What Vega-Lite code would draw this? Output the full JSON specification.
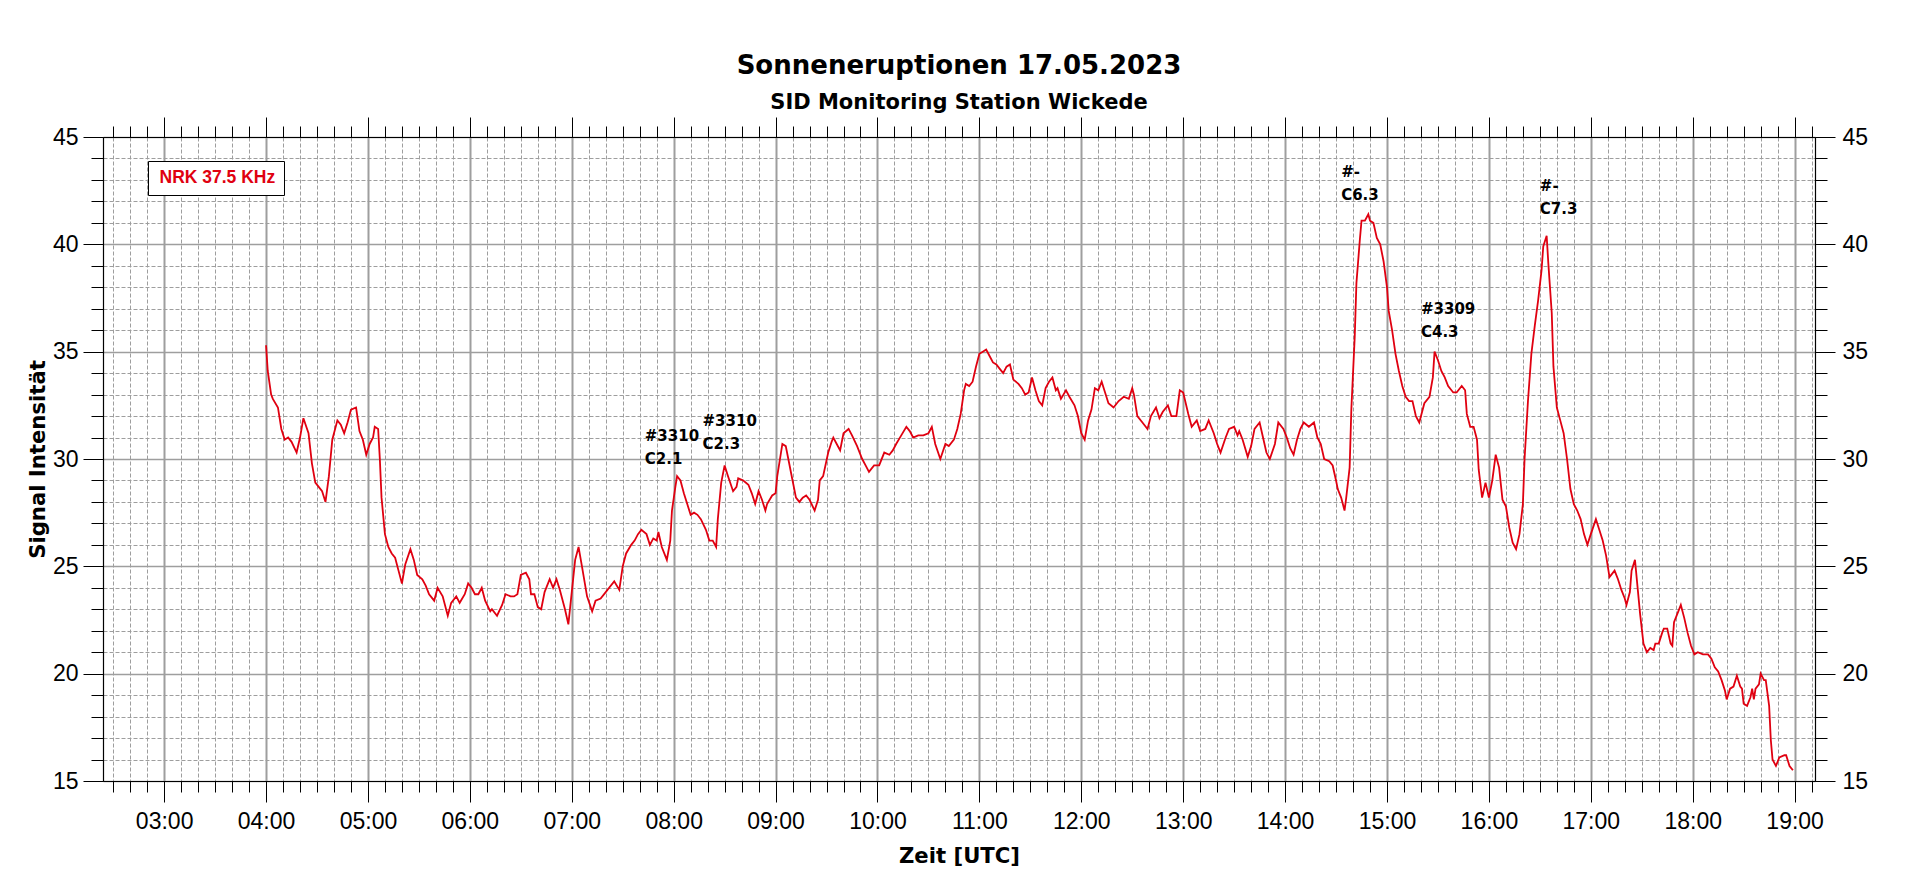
{
  "$schema": "https://vega.github.io/schema/vega-lite/v6.json",
  "description": "SID Aufzeichnung NRK 37.5 KHz, Sonneneruptionen 17.05.2023",
  "width": 1712,
  "height": 644,
  "autosize": {"type": "none"},
  "padding": {"left": 103, "top": 137, "right": 105, "bottom": 98},
  "background": "white",
  "title": {
    "text": "Sonneneruptionen 17.05.2023",
    "subtitle": "SID Monitoring Station Wickede",
    "font": "DejaVu Sans",
    "fontSize": 26,
    "fontWeight": "bold",
    "color": "black",
    "subtitleFont": "DejaVu Sans",
    "subtitleFontSize": 21,
    "subtitleFontWeight": "bold",
    "subtitleColor": "black",
    "subtitlePadding": 13,
    "anchor": "middle",
    "frame": "group",
    "offset": 3.5
  },
  "data": {
    "values": [
      {"zeit": "2023-05-17T04:00", "wert": 35.3}, {"zeit": "2023-05-17T04:01", "wert": 34.1}, {"zeit": "2023-05-17T04:03", "wert": 33.0},
      {"zeit": "2023-05-17T04:04", "wert": 32.8}, {"zeit": "2023-05-17T04:07", "wert": 32.4}, {"zeit": "2023-05-17T04:09", "wert": 31.4},
      {"zeit": "2023-05-17T04:11", "wert": 30.9}, {"zeit": "2023-05-17T04:13", "wert": 31.0}, {"zeit": "2023-05-17T04:15", "wert": 30.8},
      {"zeit": "2023-05-17T04:18", "wert": 30.3}, {"zeit": "2023-05-17T04:20", "wert": 31.0}, {"zeit": "2023-05-17T04:22", "wert": 31.9},
      {"zeit": "2023-05-17T04:25", "wert": 31.2}, {"zeit": "2023-05-17T04:27", "wert": 29.8}, {"zeit": "2023-05-17T04:29", "wert": 28.9},
      {"zeit": "2023-05-17T04:31", "wert": 28.7}, {"zeit": "2023-05-17T04:33", "wert": 28.5}, {"zeit": "2023-05-17T04:35", "wert": 28.0},
      {"zeit": "2023-05-17T04:37", "wert": 29.2}, {"zeit": "2023-05-17T04:39", "wert": 30.9}, {"zeit": "2023-05-17T04:42", "wert": 31.8},
      {"zeit": "2023-05-17T04:44", "wert": 31.6}, {"zeit": "2023-05-17T04:46", "wert": 31.2}, {"zeit": "2023-05-17T04:48", "wert": 31.7},
      {"zeit": "2023-05-17T04:50", "wert": 32.3}, {"zeit": "2023-05-17T04:53", "wert": 32.4}, {"zeit": "2023-05-17T04:55", "wert": 31.3},
      {"zeit": "2023-05-17T04:57", "wert": 30.9}, {"zeit": "2023-05-17T04:59", "wert": 30.2}, {"zeit": "2023-05-17T05:01", "wert": 30.7},
      {"zeit": "2023-05-17T05:03", "wert": 31.0}, {"zeit": "2023-05-17T05:04", "wert": 31.5}, {"zeit": "2023-05-17T05:06", "wert": 31.4},
      {"zeit": "2023-05-17T05:07", "wert": 30.0}, {"zeit": "2023-05-17T05:08", "wert": 28.2}, {"zeit": "2023-05-17T05:10", "wert": 26.5},
      {"zeit": "2023-05-17T05:12", "wert": 25.9}, {"zeit": "2023-05-17T05:14", "wert": 25.6}, {"zeit": "2023-05-17T05:16", "wert": 25.4},
      {"zeit": "2023-05-17T05:18", "wert": 24.8}, {"zeit": "2023-05-17T05:20", "wert": 24.2}, {"zeit": "2023-05-17T05:22", "wert": 25.1},
      {"zeit": "2023-05-17T05:25", "wert": 25.8}, {"zeit": "2023-05-17T05:27", "wert": 25.3}, {"zeit": "2023-05-17T05:29", "wert": 24.6},
      {"zeit": "2023-05-17T05:32", "wert": 24.4}, {"zeit": "2023-05-17T05:34", "wert": 24.1}, {"zeit": "2023-05-17T05:36", "wert": 23.7},
      {"zeit": "2023-05-17T05:39", "wert": 23.4}, {"zeit": "2023-05-17T05:41", "wert": 24.0}, {"zeit": "2023-05-17T05:44", "wert": 23.6},
      {"zeit": "2023-05-17T05:47", "wert": 22.7}, {"zeit": "2023-05-17T05:49", "wert": 23.3}, {"zeit": "2023-05-17T05:52", "wert": 23.6},
      {"zeit": "2023-05-17T05:54", "wert": 23.3}, {"zeit": "2023-05-17T05:57", "wert": 23.7}, {"zeit": "2023-05-17T05:59", "wert": 24.2},
      {"zeit": "2023-05-17T06:01", "wert": 24.0}, {"zeit": "2023-05-17T06:03", "wert": 23.7}, {"zeit": "2023-05-17T06:05", "wert": 23.7},
      {"zeit": "2023-05-17T06:07", "wert": 24.0}, {"zeit": "2023-05-17T06:09", "wert": 23.4}, {"zeit": "2023-05-17T06:12", "wert": 22.9},
      {"zeit": "2023-05-17T06:13", "wert": 23.0}, {"zeit": "2023-05-17T06:16", "wert": 22.7}, {"zeit": "2023-05-17T06:19", "wert": 23.2},
      {"zeit": "2023-05-17T06:21", "wert": 23.7}, {"zeit": "2023-05-17T06:24", "wert": 23.6}, {"zeit": "2023-05-17T06:26", "wert": 23.6},
      {"zeit": "2023-05-17T06:28", "wert": 23.7}, {"zeit": "2023-05-17T06:30", "wert": 24.6}, {"zeit": "2023-05-17T06:33", "wert": 24.7},
      {"zeit": "2023-05-17T06:35", "wert": 24.4}, {"zeit": "2023-05-17T06:36", "wert": 23.7}, {"zeit": "2023-05-17T06:38", "wert": 23.7},
      {"zeit": "2023-05-17T06:40", "wert": 23.1}, {"zeit": "2023-05-17T06:42", "wert": 23.0}, {"zeit": "2023-05-17T06:44", "wert": 23.8},
      {"zeit": "2023-05-17T06:47", "wert": 24.4}, {"zeit": "2023-05-17T06:49", "wert": 24.0}, {"zeit": "2023-05-17T06:51", "wert": 24.4},
      {"zeit": "2023-05-17T06:53", "wert": 23.9}, {"zeit": "2023-05-17T06:56", "wert": 23.0}, {"zeit": "2023-05-17T06:58", "wert": 22.3},
      {"zeit": "2023-05-17T07:00", "wert": 23.8}, {"zeit": "2023-05-17T07:02", "wert": 25.3}, {"zeit": "2023-05-17T07:04", "wert": 25.9},
      {"zeit": "2023-05-17T07:06", "wert": 25.0}, {"zeit": "2023-05-17T07:09", "wert": 23.6}, {"zeit": "2023-05-17T07:12", "wert": 22.9},
      {"zeit": "2023-05-17T07:14", "wert": 23.4}, {"zeit": "2023-05-17T07:17", "wert": 23.5}, {"zeit": "2023-05-17T07:20", "wert": 23.8},
      {"zeit": "2023-05-17T07:22", "wert": 24.0}, {"zeit": "2023-05-17T07:25", "wert": 24.3}, {"zeit": "2023-05-17T07:28", "wert": 23.9},
      {"zeit": "2023-05-17T07:30", "wert": 25.0}, {"zeit": "2023-05-17T07:32", "wert": 25.6}, {"zeit": "2023-05-17T07:35", "wert": 26.0},
      {"zeit": "2023-05-17T07:37", "wert": 26.2}, {"zeit": "2023-05-17T07:39", "wert": 26.5}, {"zeit": "2023-05-17T07:41", "wert": 26.7},
      {"zeit": "2023-05-17T07:44", "wert": 26.5}, {"zeit": "2023-05-17T07:46", "wert": 26.0}, {"zeit": "2023-05-17T07:48", "wert": 26.3},
      {"zeit": "2023-05-17T07:50", "wert": 26.2}, {"zeit": "2023-05-17T07:51", "wert": 26.6}, {"zeit": "2023-05-17T07:53", "wert": 25.9},
      {"zeit": "2023-05-17T07:55", "wert": 25.5}, {"zeit": "2023-05-17T07:56", "wert": 25.3}, {"zeit": "2023-05-17T07:58", "wert": 26.2},
      {"zeit": "2023-05-17T07:59", "wert": 27.6}, {"zeit": "2023-05-17T08:01", "wert": 28.7}, {"zeit": "2023-05-17T08:02", "wert": 29.2},
      {"zeit": "2023-05-17T08:04", "wert": 29.0}, {"zeit": "2023-05-17T08:06", "wert": 28.4}, {"zeit": "2023-05-17T08:08", "wert": 27.9},
      {"zeit": "2023-05-17T08:10", "wert": 27.4}, {"zeit": "2023-05-17T08:12", "wert": 27.5}, {"zeit": "2023-05-17T08:14", "wert": 27.4},
      {"zeit": "2023-05-17T08:16", "wert": 27.2}, {"zeit": "2023-05-17T08:19", "wert": 26.7}, {"zeit": "2023-05-17T08:21", "wert": 26.2},
      {"zeit": "2023-05-17T08:23", "wert": 26.2}, {"zeit": "2023-05-17T08:25", "wert": 25.9}, {"zeit": "2023-05-17T08:26", "wert": 27.2},
      {"zeit": "2023-05-17T08:28", "wert": 28.9}, {"zeit": "2023-05-17T08:30", "wert": 29.7}, {"zeit": "2023-05-17T08:32", "wert": 29.2},
      {"zeit": "2023-05-17T08:35", "wert": 28.5}, {"zeit": "2023-05-17T08:37", "wert": 28.7}, {"zeit": "2023-05-17T08:38", "wert": 29.1},
      {"zeit": "2023-05-17T08:41", "wert": 29.0}, {"zeit": "2023-05-17T08:44", "wert": 28.8}, {"zeit": "2023-05-17T08:46", "wert": 28.4},
      {"zeit": "2023-05-17T08:48", "wert": 27.9}, {"zeit": "2023-05-17T08:50", "wert": 28.5}, {"zeit": "2023-05-17T08:52", "wert": 28.1},
      {"zeit": "2023-05-17T08:54", "wert": 27.6}, {"zeit": "2023-05-17T08:55", "wert": 27.9}, {"zeit": "2023-05-17T08:58", "wert": 28.3},
      {"zeit": "2023-05-17T09:00", "wert": 28.4}, {"zeit": "2023-05-17T09:01", "wert": 29.2}, {"zeit": "2023-05-17T09:04", "wert": 30.7},
      {"zeit": "2023-05-17T09:06", "wert": 30.6}, {"zeit": "2023-05-17T09:08", "wert": 29.8}, {"zeit": "2023-05-17T09:10", "wert": 29.0},
      {"zeit": "2023-05-17T09:12", "wert": 28.2}, {"zeit": "2023-05-17T09:14", "wert": 28.0}, {"zeit": "2023-05-17T09:16", "wert": 28.2},
      {"zeit": "2023-05-17T09:18", "wert": 28.3}, {"zeit": "2023-05-17T09:20", "wert": 28.1}, {"zeit": "2023-05-17T09:23", "wert": 27.6},
      {"zeit": "2023-05-17T09:25", "wert": 28.1}, {"zeit": "2023-05-17T09:26", "wert": 29.0}, {"zeit": "2023-05-17T09:28", "wert": 29.2},
      {"zeit": "2023-05-17T09:31", "wert": 30.3}, {"zeit": "2023-05-17T09:33", "wert": 30.8}, {"zeit": "2023-05-17T09:34", "wert": 31.0},
      {"zeit": "2023-05-17T09:36", "wert": 30.7}, {"zeit": "2023-05-17T09:38", "wert": 30.4}, {"zeit": "2023-05-17T09:40", "wert": 31.2},
      {"zeit": "2023-05-17T09:43", "wert": 31.4}, {"zeit": "2023-05-17T09:45", "wert": 31.1}, {"zeit": "2023-05-17T09:48", "wert": 30.6},
      {"zeit": "2023-05-17T09:51", "wert": 30.0}, {"zeit": "2023-05-17T09:53", "wert": 29.7}, {"zeit": "2023-05-17T09:55", "wert": 29.4},
      {"zeit": "2023-05-17T09:58", "wert": 29.7}, {"zeit": "2023-05-17T10:01", "wert": 29.7}, {"zeit": "2023-05-17T10:04", "wert": 30.3},
      {"zeit": "2023-05-17T10:07", "wert": 30.2}, {"zeit": "2023-05-17T10:09", "wert": 30.4}, {"zeit": "2023-05-17T10:11", "wert": 30.7},
      {"zeit": "2023-05-17T10:14", "wert": 31.1}, {"zeit": "2023-05-17T10:17", "wert": 31.5}, {"zeit": "2023-05-17T10:19", "wert": 31.3},
      {"zeit": "2023-05-17T10:21", "wert": 31.0}, {"zeit": "2023-05-17T10:24", "wert": 31.1}, {"zeit": "2023-05-17T10:27", "wert": 31.1},
      {"zeit": "2023-05-17T10:30", "wert": 31.2}, {"zeit": "2023-05-17T10:32", "wert": 31.5}, {"zeit": "2023-05-17T10:34", "wert": 30.7},
      {"zeit": "2023-05-17T10:37", "wert": 30.0}, {"zeit": "2023-05-17T10:40", "wert": 30.7}, {"zeit": "2023-05-17T10:42", "wert": 30.6},
      {"zeit": "2023-05-17T10:45", "wert": 30.9}, {"zeit": "2023-05-17T10:47", "wert": 31.4}, {"zeit": "2023-05-17T10:49", "wert": 32.1},
      {"zeit": "2023-05-17T10:51", "wert": 33.2}, {"zeit": "2023-05-17T10:52", "wert": 33.5}, {"zeit": "2023-05-17T10:54", "wert": 33.4},
      {"zeit": "2023-05-17T10:56", "wert": 33.6}, {"zeit": "2023-05-17T10:58", "wert": 34.3}, {"zeit": "2023-05-17T11:00", "wert": 34.9},
      {"zeit": "2023-05-17T11:02", "wert": 35.0}, {"zeit": "2023-05-17T11:04", "wert": 35.1}, {"zeit": "2023-05-17T11:06", "wert": 34.8},
      {"zeit": "2023-05-17T11:08", "wert": 34.5}, {"zeit": "2023-05-17T11:10", "wert": 34.4}, {"zeit": "2023-05-17T11:12", "wert": 34.2},
      {"zeit": "2023-05-17T11:14", "wert": 34.0}, {"zeit": "2023-05-17T11:16", "wert": 34.3}, {"zeit": "2023-05-17T11:18", "wert": 34.4},
      {"zeit": "2023-05-17T11:20", "wert": 33.7}, {"zeit": "2023-05-17T11:23", "wert": 33.5}, {"zeit": "2023-05-17T11:25", "wert": 33.3},
      {"zeit": "2023-05-17T11:27", "wert": 33.0}, {"zeit": "2023-05-17T11:29", "wert": 33.1}, {"zeit": "2023-05-17T11:31", "wert": 33.8},
      {"zeit": "2023-05-17T11:33", "wert": 33.2}, {"zeit": "2023-05-17T11:35", "wert": 32.7}, {"zeit": "2023-05-17T11:37", "wert": 32.5},
      {"zeit": "2023-05-17T11:39", "wert": 33.3}, {"zeit": "2023-05-17T11:41", "wert": 33.6}, {"zeit": "2023-05-17T11:43", "wert": 33.8},
      {"zeit": "2023-05-17T11:45", "wert": 33.2}, {"zeit": "2023-05-17T11:46", "wert": 33.3}, {"zeit": "2023-05-17T11:48", "wert": 32.8},
      {"zeit": "2023-05-17T11:51", "wert": 33.2}, {"zeit": "2023-05-17T11:53", "wert": 32.9}, {"zeit": "2023-05-17T11:56", "wert": 32.5},
      {"zeit": "2023-05-17T11:58", "wert": 32.0}, {"zeit": "2023-05-17T12:00", "wert": 31.2}, {"zeit": "2023-05-17T12:02", "wert": 30.9},
      {"zeit": "2023-05-17T12:04", "wert": 31.8}, {"zeit": "2023-05-17T12:06", "wert": 32.3}, {"zeit": "2023-05-17T12:08", "wert": 33.3},
      {"zeit": "2023-05-17T12:10", "wert": 33.2}, {"zeit": "2023-05-17T12:12", "wert": 33.6}, {"zeit": "2023-05-17T12:14", "wert": 33.1},
      {"zeit": "2023-05-17T12:16", "wert": 32.6}, {"zeit": "2023-05-17T12:19", "wert": 32.4}, {"zeit": "2023-05-17T12:22", "wert": 32.7},
      {"zeit": "2023-05-17T12:25", "wert": 32.9}, {"zeit": "2023-05-17T12:28", "wert": 32.8}, {"zeit": "2023-05-17T12:30", "wert": 33.3},
      {"zeit": "2023-05-17T12:31", "wert": 33.0}, {"zeit": "2023-05-17T12:33", "wert": 32.0}, {"zeit": "2023-05-17T12:36", "wert": 31.7},
      {"zeit": "2023-05-17T12:39", "wert": 31.4}, {"zeit": "2023-05-17T12:41", "wert": 32.0}, {"zeit": "2023-05-17T12:44", "wert": 32.4},
      {"zeit": "2023-05-17T12:46", "wert": 31.9}, {"zeit": "2023-05-17T12:48", "wert": 32.2}, {"zeit": "2023-05-17T12:51", "wert": 32.5},
      {"zeit": "2023-05-17T12:53", "wert": 32.0}, {"zeit": "2023-05-17T12:56", "wert": 32.0}, {"zeit": "2023-05-17T12:58", "wert": 33.2},
      {"zeit": "2023-05-17T13:00", "wert": 33.1}, {"zeit": "2023-05-17T13:03", "wert": 32.1}, {"zeit": "2023-05-17T13:05", "wert": 31.5},
      {"zeit": "2023-05-17T13:08", "wert": 31.8}, {"zeit": "2023-05-17T13:10", "wert": 31.3}, {"zeit": "2023-05-17T13:13", "wert": 31.4},
      {"zeit": "2023-05-17T13:15", "wert": 31.8}, {"zeit": "2023-05-17T13:18", "wert": 31.2}, {"zeit": "2023-05-17T13:20", "wert": 30.7},
      {"zeit": "2023-05-17T13:22", "wert": 30.3}, {"zeit": "2023-05-17T13:25", "wert": 31.0}, {"zeit": "2023-05-17T13:27", "wert": 31.4},
      {"zeit": "2023-05-17T13:30", "wert": 31.5}, {"zeit": "2023-05-17T13:32", "wert": 31.1}, {"zeit": "2023-05-17T13:33", "wert": 31.3},
      {"zeit": "2023-05-17T13:35", "wert": 30.9}, {"zeit": "2023-05-17T13:38", "wert": 30.1}, {"zeit": "2023-05-17T13:40", "wert": 30.6},
      {"zeit": "2023-05-17T13:42", "wert": 31.4}, {"zeit": "2023-05-17T13:45", "wert": 31.7}, {"zeit": "2023-05-17T13:47", "wert": 31.0},
      {"zeit": "2023-05-17T13:49", "wert": 30.3}, {"zeit": "2023-05-17T13:51", "wert": 30.0}, {"zeit": "2023-05-17T13:54", "wert": 30.7},
      {"zeit": "2023-05-17T13:56", "wert": 31.7}, {"zeit": "2023-05-17T13:59", "wert": 31.4}, {"zeit": "2023-05-17T14:01", "wert": 31.0},
      {"zeit": "2023-05-17T14:03", "wert": 30.5}, {"zeit": "2023-05-17T14:05", "wert": 30.2}, {"zeit": "2023-05-17T14:07", "wert": 30.9},
      {"zeit": "2023-05-17T14:09", "wert": 31.4}, {"zeit": "2023-05-17T14:11", "wert": 31.7}, {"zeit": "2023-05-17T14:14", "wert": 31.5},
      {"zeit": "2023-05-17T14:17", "wert": 31.7}, {"zeit": "2023-05-17T14:19", "wert": 31.0}, {"zeit": "2023-05-17T14:21", "wert": 30.7},
      {"zeit": "2023-05-17T14:23", "wert": 30.0}, {"zeit": "2023-05-17T14:26", "wert": 29.9}, {"zeit": "2023-05-17T14:28", "wert": 29.7},
      {"zeit": "2023-05-17T14:30", "wert": 29.0}, {"zeit": "2023-05-17T14:31", "wert": 28.6}, {"zeit": "2023-05-17T14:33", "wert": 28.2},
      {"zeit": "2023-05-17T14:35", "wert": 27.6}, {"zeit": "2023-05-17T14:36", "wert": 28.2}, {"zeit": "2023-05-17T14:38", "wert": 29.6},
      {"zeit": "2023-05-17T14:39", "wert": 32.3}, {"zeit": "2023-05-17T14:41", "wert": 35.7}, {"zeit": "2023-05-17T14:42", "wert": 38.2},
      {"zeit": "2023-05-17T14:44", "wert": 40.2}, {"zeit": "2023-05-17T14:45", "wert": 41.1}, {"zeit": "2023-05-17T14:47", "wert": 41.1},
      {"zeit": "2023-05-17T14:49", "wert": 41.4}, {"zeit": "2023-05-17T14:50", "wert": 41.1}, {"zeit": "2023-05-17T14:52", "wert": 41.0},
      {"zeit": "2023-05-17T14:54", "wert": 40.3}, {"zeit": "2023-05-17T14:56", "wert": 40.0}, {"zeit": "2023-05-17T14:58", "wert": 39.2},
      {"zeit": "2023-05-17T15:00", "wert": 38.0}, {"zeit": "2023-05-17T15:01", "wert": 36.9}, {"zeit": "2023-05-17T15:03", "wert": 36.0},
      {"zeit": "2023-05-17T15:05", "wert": 34.9}, {"zeit": "2023-05-17T15:07", "wert": 34.1}, {"zeit": "2023-05-17T15:09", "wert": 33.4},
      {"zeit": "2023-05-17T15:11", "wert": 32.9}, {"zeit": "2023-05-17T15:13", "wert": 32.7}, {"zeit": "2023-05-17T15:15", "wert": 32.7},
      {"zeit": "2023-05-17T15:17", "wert": 32.0}, {"zeit": "2023-05-17T15:19", "wert": 31.7}, {"zeit": "2023-05-17T15:22", "wert": 32.6},
      {"zeit": "2023-05-17T15:25", "wert": 32.9}, {"zeit": "2023-05-17T15:27", "wert": 33.8}, {"zeit": "2023-05-17T15:28", "wert": 35.0},
      {"zeit": "2023-05-17T15:30", "wert": 34.6}, {"zeit": "2023-05-17T15:32", "wert": 34.1}, {"zeit": "2023-05-17T15:34", "wert": 33.8},
      {"zeit": "2023-05-17T15:36", "wert": 33.4}, {"zeit": "2023-05-17T15:39", "wert": 33.1}, {"zeit": "2023-05-17T15:41", "wert": 33.1},
      {"zeit": "2023-05-17T15:44", "wert": 33.4}, {"zeit": "2023-05-17T15:46", "wert": 33.2}, {"zeit": "2023-05-17T15:47", "wert": 32.1},
      {"zeit": "2023-05-17T15:49", "wert": 31.5}, {"zeit": "2023-05-17T15:51", "wert": 31.5}, {"zeit": "2023-05-17T15:53", "wert": 30.9},
      {"zeit": "2023-05-17T15:54", "wert": 29.5}, {"zeit": "2023-05-17T15:56", "wert": 28.2}, {"zeit": "2023-05-17T15:58", "wert": 28.9},
      {"zeit": "2023-05-17T16:00", "wert": 28.2}, {"zeit": "2023-05-17T16:02", "wert": 29.0}, {"zeit": "2023-05-17T16:04", "wert": 30.2},
      {"zeit": "2023-05-17T16:06", "wert": 29.6}, {"zeit": "2023-05-17T16:08", "wert": 28.1}, {"zeit": "2023-05-17T16:10", "wert": 27.8},
      {"zeit": "2023-05-17T16:12", "wert": 26.8}, {"zeit": "2023-05-17T16:14", "wert": 26.1}, {"zeit": "2023-05-17T16:16", "wert": 25.8},
      {"zeit": "2023-05-17T16:18", "wert": 26.5}, {"zeit": "2023-05-17T16:20", "wert": 27.9}, {"zeit": "2023-05-17T16:21", "wert": 30.0},
      {"zeit": "2023-05-17T16:23", "wert": 32.7}, {"zeit": "2023-05-17T16:25", "wert": 34.9}, {"zeit": "2023-05-17T16:27", "wert": 36.2},
      {"zeit": "2023-05-17T16:29", "wert": 37.4}, {"zeit": "2023-05-17T16:31", "wert": 38.8}, {"zeit": "2023-05-17T16:32", "wert": 39.9},
      {"zeit": "2023-05-17T16:34", "wert": 40.4}, {"zeit": "2023-05-17T16:35", "wert": 39.1}, {"zeit": "2023-05-17T16:37", "wert": 36.8},
      {"zeit": "2023-05-17T16:38", "wert": 34.3}, {"zeit": "2023-05-17T16:40", "wert": 32.4}, {"zeit": "2023-05-17T16:42", "wert": 31.8},
      {"zeit": "2023-05-17T16:44", "wert": 31.2}, {"zeit": "2023-05-17T16:46", "wert": 30.0}, {"zeit": "2023-05-17T16:48", "wert": 28.6},
      {"zeit": "2023-05-17T16:50", "wert": 27.9}, {"zeit": "2023-05-17T16:52", "wert": 27.6}, {"zeit": "2023-05-17T16:54", "wert": 27.2},
      {"zeit": "2023-05-17T16:56", "wert": 26.5}, {"zeit": "2023-05-17T16:58", "wert": 26.0}, {"zeit": "2023-05-17T17:00", "wert": 26.5},
      {"zeit": "2023-05-17T17:03", "wert": 27.2}, {"zeit": "2023-05-17T17:05", "wert": 26.7}, {"zeit": "2023-05-17T17:07", "wert": 26.2},
      {"zeit": "2023-05-17T17:09", "wert": 25.5}, {"zeit": "2023-05-17T17:11", "wert": 24.5}, {"zeit": "2023-05-17T17:14", "wert": 24.8},
      {"zeit": "2023-05-17T17:16", "wert": 24.4}, {"zeit": "2023-05-17T17:18", "wert": 23.9}, {"zeit": "2023-05-17T17:20", "wert": 23.5},
      {"zeit": "2023-05-17T17:21", "wert": 23.2}, {"zeit": "2023-05-17T17:23", "wert": 23.8}, {"zeit": "2023-05-17T17:24", "wert": 24.8},
      {"zeit": "2023-05-17T17:26", "wert": 25.3}, {"zeit": "2023-05-17T17:29", "wert": 22.8}, {"zeit": "2023-05-17T17:31", "wert": 21.4},
      {"zeit": "2023-05-17T17:33", "wert": 21.0}, {"zeit": "2023-05-17T17:35", "wert": 21.2}, {"zeit": "2023-05-17T17:37", "wert": 21.1},
      {"zeit": "2023-05-17T17:38", "wert": 21.4}, {"zeit": "2023-05-17T17:40", "wert": 21.4}, {"zeit": "2023-05-17T17:42", "wert": 21.9},
      {"zeit": "2023-05-17T17:43", "wert": 22.1}, {"zeit": "2023-05-17T17:45", "wert": 22.1}, {"zeit": "2023-05-17T17:47", "wert": 21.4},
      {"zeit": "2023-05-17T17:48", "wert": 21.3}, {"zeit": "2023-05-17T17:49", "wert": 22.4}, {"zeit": "2023-05-17T17:51", "wert": 22.8},
      {"zeit": "2023-05-17T17:53", "wert": 23.2}, {"zeit": "2023-05-17T17:55", "wert": 22.6}, {"zeit": "2023-05-17T17:57", "wert": 21.9},
      {"zeit": "2023-05-17T17:59", "wert": 21.3}, {"zeit": "2023-05-17T18:01", "wert": 20.9}, {"zeit": "2023-05-17T18:03", "wert": 21.0},
      {"zeit": "2023-05-17T18:06", "wert": 20.9}, {"zeit": "2023-05-17T18:09", "wert": 20.9}, {"zeit": "2023-05-17T18:11", "wert": 20.7},
      {"zeit": "2023-05-17T18:13", "wert": 20.3}, {"zeit": "2023-05-17T18:15", "wert": 20.1}, {"zeit": "2023-05-17T18:17", "wert": 19.7},
      {"zeit": "2023-05-17T18:19", "wert": 19.2}, {"zeit": "2023-05-17T18:20", "wert": 18.8}, {"zeit": "2023-05-17T18:22", "wert": 19.3},
      {"zeit": "2023-05-17T18:24", "wert": 19.4}, {"zeit": "2023-05-17T18:26", "wert": 19.9}, {"zeit": "2023-05-17T18:28", "wert": 19.4},
      {"zeit": "2023-05-17T18:29", "wert": 19.3}, {"zeit": "2023-05-17T18:30", "wert": 18.6}, {"zeit": "2023-05-17T18:32", "wert": 18.5},
      {"zeit": "2023-05-17T18:34", "wert": 18.9}, {"zeit": "2023-05-17T18:35", "wert": 19.3}, {"zeit": "2023-05-17T18:36", "wert": 18.8},
      {"zeit": "2023-05-17T18:37", "wert": 19.3}, {"zeit": "2023-05-17T18:39", "wert": 19.5}, {"zeit": "2023-05-17T18:40", "wert": 20.0},
      {"zeit": "2023-05-17T18:42", "wert": 19.7}, {"zeit": "2023-05-17T18:43", "wert": 19.7}, {"zeit": "2023-05-17T18:45", "wert": 18.5},
      {"zeit": "2023-05-17T18:46", "wert": 16.9}, {"zeit": "2023-05-17T18:47", "wert": 16.0}, {"zeit": "2023-05-17T18:49", "wert": 15.7},
      {"zeit": "2023-05-17T18:51", "wert": 16.1}, {"zeit": "2023-05-17T18:54", "wert": 16.2}, {"zeit": "2023-05-17T18:55", "wert": 16.2},
      {"zeit": "2023-05-17T18:57", "wert": 15.7}, {"zeit": "2023-05-17T18:59", "wert": 15.5}
    ]
  },
  "layer": [
    {
      "mark": {"type": "line", "opacity": 0},
      "encoding": {
        "x": {
          "field": "zeit", "type": "temporal",
          "scale": {"domain": ["2023-05-17T02:24", "2023-05-17T19:12"], "nice": false},
          "axis": {
            "orient": "bottom", "labels": false, "domain": false, "tickSize": 11,
            "grid": true, "gridDash": [4, 2], "gridWidth": 1, "title": null,
            "values": ["2023-05-17T02:30", "2023-05-17T02:40", "2023-05-17T02:50", "2023-05-17T03:00", "2023-05-17T03:10", "2023-05-17T03:20", "2023-05-17T03:30", "2023-05-17T03:40", "2023-05-17T03:50", "2023-05-17T04:00", "2023-05-17T04:10", "2023-05-17T04:20", "2023-05-17T04:30", "2023-05-17T04:40", "2023-05-17T04:50", "2023-05-17T05:00", "2023-05-17T05:10", "2023-05-17T05:20", "2023-05-17T05:30", "2023-05-17T05:40", "2023-05-17T05:50", "2023-05-17T06:00", "2023-05-17T06:10", "2023-05-17T06:20", "2023-05-17T06:30", "2023-05-17T06:40", "2023-05-17T06:50", "2023-05-17T07:00", "2023-05-17T07:10", "2023-05-17T07:20", "2023-05-17T07:30", "2023-05-17T07:40", "2023-05-17T07:50", "2023-05-17T08:00", "2023-05-17T08:10", "2023-05-17T08:20", "2023-05-17T08:30", "2023-05-17T08:40", "2023-05-17T08:50", "2023-05-17T09:00", "2023-05-17T09:10", "2023-05-17T09:20", "2023-05-17T09:30", "2023-05-17T09:40", "2023-05-17T09:50", "2023-05-17T10:00", "2023-05-17T10:10", "2023-05-17T10:20", "2023-05-17T10:30", "2023-05-17T10:40", "2023-05-17T10:50", "2023-05-17T11:00", "2023-05-17T11:10", "2023-05-17T11:20", "2023-05-17T11:30", "2023-05-17T11:40", "2023-05-17T11:50", "2023-05-17T12:00", "2023-05-17T12:10", "2023-05-17T12:20", "2023-05-17T12:30", "2023-05-17T12:40", "2023-05-17T12:50", "2023-05-17T13:00", "2023-05-17T13:10", "2023-05-17T13:20", "2023-05-17T13:30", "2023-05-17T13:40", "2023-05-17T13:50", "2023-05-17T14:00", "2023-05-17T14:10", "2023-05-17T14:20", "2023-05-17T14:30", "2023-05-17T14:40", "2023-05-17T14:50", "2023-05-17T15:00", "2023-05-17T15:10", "2023-05-17T15:20", "2023-05-17T15:30", "2023-05-17T15:40", "2023-05-17T15:50", "2023-05-17T16:00", "2023-05-17T16:10", "2023-05-17T16:20", "2023-05-17T16:30", "2023-05-17T16:40", "2023-05-17T16:50", "2023-05-17T17:00", "2023-05-17T17:10", "2023-05-17T17:20", "2023-05-17T17:30", "2023-05-17T17:40", "2023-05-17T17:50", "2023-05-17T18:00", "2023-05-17T18:10", "2023-05-17T18:20", "2023-05-17T18:30", "2023-05-17T18:40", "2023-05-17T18:50", "2023-05-17T19:00", "2023-05-17T19:10"]
          }
        },
        "y": {
          "field": "wert", "type": "quantitative",
          "scale": {"domain": [15, 45], "nice": false, "zero": false},
          "axis": {
            "orient": "left", "labels": false, "domain": false, "tickSize": 12,
            "grid": true, "gridDash": [4, 2], "gridWidth": 1, "title": null,
            "values": [15, 16, 17, 18, 19, 20, 21, 22, 23, 24, 25, 26, 27, 28, 29, 30, 31, 32, 33, 34, 35, 36, 37, 38, 39, 40, 41, 42, 43, 44, 45]
          }
        }
      }
    },
    {
      "mark": {"type": "line", "opacity": 0},
      "encoding": {
        "x": {
          "field": "zeit", "type": "temporal",
          "scale": {"domain": ["2023-05-17T02:24", "2023-05-17T19:12"], "nice": false},
          "axis": {
            "orient": "top", "labels": false, "domain": false, "tickSize": 11, "grid": false, "title": null,
            "values": ["2023-05-17T02:30", "2023-05-17T02:40", "2023-05-17T02:50", "2023-05-17T03:00", "2023-05-17T03:10", "2023-05-17T03:20", "2023-05-17T03:30", "2023-05-17T03:40", "2023-05-17T03:50", "2023-05-17T04:00", "2023-05-17T04:10", "2023-05-17T04:20", "2023-05-17T04:30", "2023-05-17T04:40", "2023-05-17T04:50", "2023-05-17T05:00", "2023-05-17T05:10", "2023-05-17T05:20", "2023-05-17T05:30", "2023-05-17T05:40", "2023-05-17T05:50", "2023-05-17T06:00", "2023-05-17T06:10", "2023-05-17T06:20", "2023-05-17T06:30", "2023-05-17T06:40", "2023-05-17T06:50", "2023-05-17T07:00", "2023-05-17T07:10", "2023-05-17T07:20", "2023-05-17T07:30", "2023-05-17T07:40", "2023-05-17T07:50", "2023-05-17T08:00", "2023-05-17T08:10", "2023-05-17T08:20", "2023-05-17T08:30", "2023-05-17T08:40", "2023-05-17T08:50", "2023-05-17T09:00", "2023-05-17T09:10", "2023-05-17T09:20", "2023-05-17T09:30", "2023-05-17T09:40", "2023-05-17T09:50", "2023-05-17T10:00", "2023-05-17T10:10", "2023-05-17T10:20", "2023-05-17T10:30", "2023-05-17T10:40", "2023-05-17T10:50", "2023-05-17T11:00", "2023-05-17T11:10", "2023-05-17T11:20", "2023-05-17T11:30", "2023-05-17T11:40", "2023-05-17T11:50", "2023-05-17T12:00", "2023-05-17T12:10", "2023-05-17T12:20", "2023-05-17T12:30", "2023-05-17T12:40", "2023-05-17T12:50", "2023-05-17T13:00", "2023-05-17T13:10", "2023-05-17T13:20", "2023-05-17T13:30", "2023-05-17T13:40", "2023-05-17T13:50", "2023-05-17T14:00", "2023-05-17T14:10", "2023-05-17T14:20", "2023-05-17T14:30", "2023-05-17T14:40", "2023-05-17T14:50", "2023-05-17T15:00", "2023-05-17T15:10", "2023-05-17T15:20", "2023-05-17T15:30", "2023-05-17T15:40", "2023-05-17T15:50", "2023-05-17T16:00", "2023-05-17T16:10", "2023-05-17T16:20", "2023-05-17T16:30", "2023-05-17T16:40", "2023-05-17T16:50", "2023-05-17T17:00", "2023-05-17T17:10", "2023-05-17T17:20", "2023-05-17T17:30", "2023-05-17T17:40", "2023-05-17T17:50", "2023-05-17T18:00", "2023-05-17T18:10", "2023-05-17T18:20", "2023-05-17T18:30", "2023-05-17T18:40", "2023-05-17T18:50", "2023-05-17T19:00", "2023-05-17T19:10"]
          }
        },
        "y": {
          "field": "wert", "type": "quantitative",
          "scale": {"domain": [15, 45], "nice": false, "zero": false},
          "axis": {
            "orient": "right", "labels": false, "domain": false, "tickSize": 12, "grid": false, "title": null,
            "values": [15, 16, 17, 18, 19, 20, 21, 22, 23, 24, 25, 26, 27, 28, 29, 30, 31, 32, 33, 34, 35, 36, 37, 38, 39, 40, 41, 42, 43, 44, 45]
          }
        }
      }
    },
    {
      "mark": {"type": "line", "opacity": 0},
      "encoding": {
        "x": {
          "field": "zeit", "type": "temporal",
          "scale": {"domain": ["2023-05-17T02:24", "2023-05-17T19:12"], "nice": false},
          "axis": {
            "orient": "top", "labels": false, "domain": true, "tickSize": 20, "grid": false, "title": null,
            "values": ["2023-05-17T03:00", "2023-05-17T04:00", "2023-05-17T05:00", "2023-05-17T06:00", "2023-05-17T07:00", "2023-05-17T08:00", "2023-05-17T09:00", "2023-05-17T10:00", "2023-05-17T11:00", "2023-05-17T12:00", "2023-05-17T13:00", "2023-05-17T14:00", "2023-05-17T15:00", "2023-05-17T16:00", "2023-05-17T17:00", "2023-05-17T18:00", "2023-05-17T19:00"]
          }
        },
        "y": {
          "field": "wert", "type": "quantitative",
          "scale": {"domain": [15, 45], "nice": false, "zero": false},
          "axis": {
            "orient": "right", "values": [15, 20, 25, 30, 35, 40, 45],
            "tickSize": 20, "labelPadding": 7, "domain": true, "grid": false, "title": null
          }
        }
      }
    },
    {
      "mark": {"type": "line", "color": "#e00010", "strokeWidth": 1.8},
      "encoding": {
        "x": {
          "field": "zeit", "type": "temporal",
          "scale": {"domain": ["2023-05-17T02:24", "2023-05-17T19:12"], "nice": false},
          "axis": {
            "orient": "bottom", "format": "%H:%M",
            "values": ["2023-05-17T03:00", "2023-05-17T04:00", "2023-05-17T05:00", "2023-05-17T06:00", "2023-05-17T07:00", "2023-05-17T08:00", "2023-05-17T09:00", "2023-05-17T10:00", "2023-05-17T11:00", "2023-05-17T12:00", "2023-05-17T13:00", "2023-05-17T14:00", "2023-05-17T15:00", "2023-05-17T16:00", "2023-05-17T17:00", "2023-05-17T18:00", "2023-05-17T19:00"],
            "tickSize": 21, "labelPadding": 8, "domain": true, "grid": true, "gridWidth": 2,
            "title": "Zeit [UTC]", "titlePadding": 12
          }
        },
        "y": {
          "field": "wert", "type": "quantitative",
          "scale": {"domain": [15, 45], "nice": false, "zero": false},
          "axis": {
            "orient": "left", "values": [15, 20, 25, 30, 35, 40, 45],
            "tickSize": 20, "labelPadding": 5, "domain": true, "grid": true, "gridWidth": 1.3,
            "title": "Signal Intensität"
          }
        },
        "color": {
          "datum": "NRK 37.5 KHz", "type": "nominal",
          "scale": {"range": ["#e00010"]},
          "legend": {
            "orient": "none", "legendX": 45, "legendY": 24, "title": null,
            "symbolOpacity": 0, "symbolSize": 1, "labelOffset": -14,
            "labelColor": "#e00010", "labelFont": "Liberation Sans", "labelFontSize": 17.5, "labelFontWeight": "bold",
            "padding": 8, "strokeColor": "black", "fillColor": "white"
          }
        }
      }
    },
    {
      "data": {
        "values": [
          {"zeit": "2023-05-17T07:43", "wert": 30.84, "label": "#3310\nC2.1"},
          {"zeit": "2023-05-17T08:17", "wert": 31.53, "label": "#3310\nC2.3"},
          {"zeit": "2023-05-17T14:33", "wert": 43.12, "label": "#-\nC6.3"},
          {"zeit": "2023-05-17T15:20", "wert": 36.75, "label": "#3309\nC4.3"},
          {"zeit": "2023-05-17T16:30", "wert": 42.49, "label": "#-\nC7.3"}
        ]
      },
      "mark": {
        "type": "text", "align": "left", "baseline": "alphabetic", "lineBreak": "\n", "lineHeight": 22.7,
        "font": "DejaVu Sans", "fontSize": 15, "fontWeight": "bold", "color": "black"
      },
      "encoding": {
        "x": {"field": "zeit", "type": "temporal", "axis": null},
        "y": {"field": "wert", "type": "quantitative", "axis": null},
        "text": {"field": "label"}
      }
    }
  ],
  "resolve": {"axis": {"x": "independent", "y": "independent"}},
  "config": {
    "view": {"stroke": null},
    "axis": {
      "labelFont": "Liberation Sans",
      "labelFontSize": 23,
      "labelColor": "black",
      "tickColor": "black",
      "tickWidth": 1,
      "domainColor": "black",
      "domainWidth": 1.2,
      "gridColor": "#9e9e9e",
      "titleFont": "DejaVu Sans",
      "titleFontSize": 21.2,
      "titleFontWeight": "bold",
      "titleColor": "black"
    }
  }
}
